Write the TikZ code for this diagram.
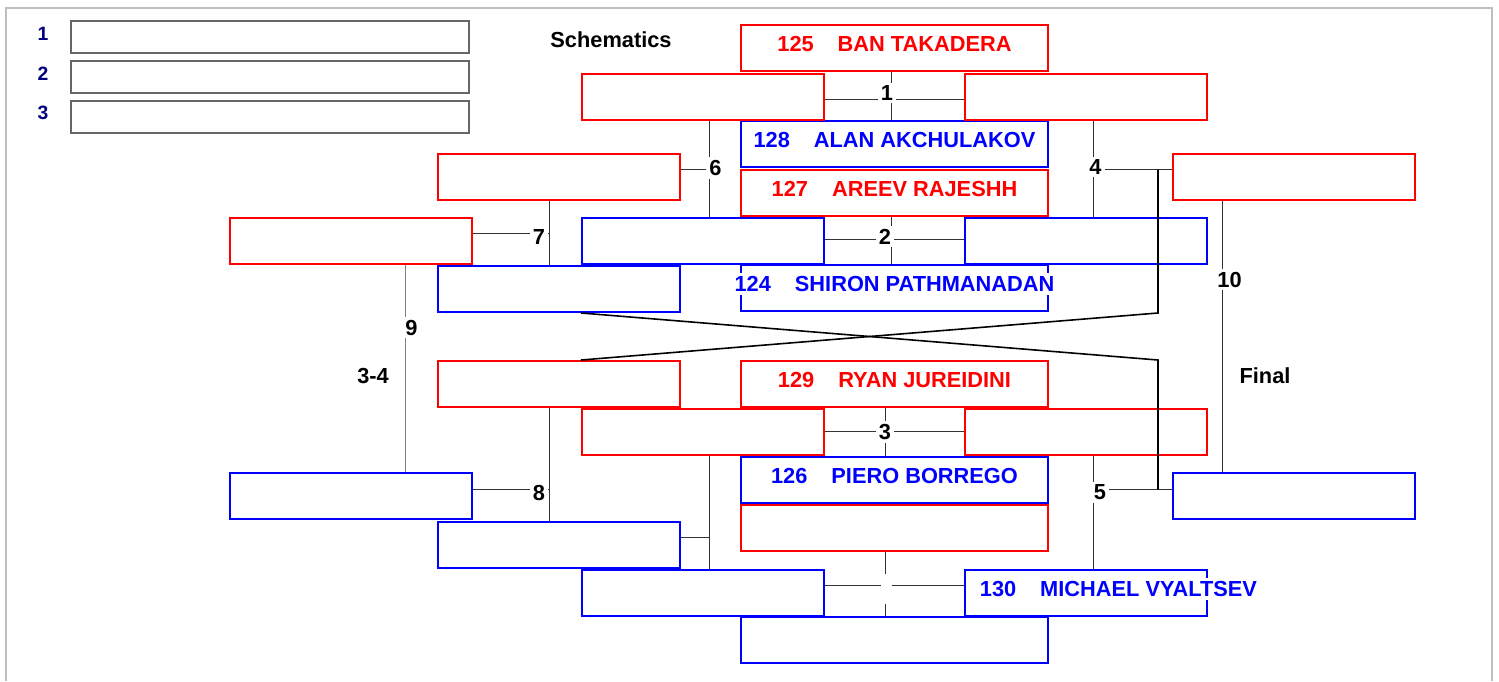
\documentclass[tikz,border=0pt]{standalone}
\usepackage{fontspec}
\setmainfont{Liberation Sans}
\definecolor{matred}{rgb}{1.0, 0.0, 0.0}
\definecolor{matblue}{rgb}{0.0, 0.0, 1.0}
\definecolor{legendnavy}{rgb}{0.0, 0.0, 0.5}
\definecolor{legendgray}{rgb}{0.4, 0.4, 0.4}
\definecolor{framegray}{rgb}{0.75, 0.75, 0.75}
\newcommand{\fighter}[2]{#1\hspace{4.8mm}#2}

\begin{document}
\begin{tikzpicture}[
        x=0.02cm, y=-0.02cm,
        every node/.style={font=\fontsize{12.4}{15}\bfseries},
        slot/.style={rectangle, line width=1.13pt, inner sep=0pt, minimum width=4.84cm, minimum height=0.92cm},
        redslot/.style={slot, draw=matred},
        blueslot/.style={slot, draw=matblue},
        wide/.style={minimum width=6.14cm},
        legendslot/.style={slot, draw=legendgray, minimum width=7.96cm, minimum height=0.64cm},
        redname/.style={fill=white, text=matred, inner sep=2pt, yshift=2.3pt},
        bluename/.style={fill=white, text=matblue, inner sep=2pt, yshift=2.3pt},
        matchno/.style={inner sep=1.5pt},
        legendno/.style={text=legendnavy, font=\fontsize{11}{13}\bfseries},
        conn/.style={draw=black!80, line width=0.57pt},
        crossline/.style={draw=black, line width=0.9pt},
    ]
    \useasboundingbox (0,0) rectangle (1499,681);
    \draw[framegray, line width=1.13pt] (6,681) |- (1492,8) -- (1492,681);

    % Legend
    \node[legendno] (n1) at (43,34) {1};
    \node[legendno] (n2) at (43,73.5) {2};
    \node[legendno] (n3) at (43,113) {3};
    \node[legendslot] (p1) at (270,37) {};
    \node[legendslot] (p2) at (270,77) {};
    \node[legendslot] (p3) at (270,117) {};
    \node (schem) at (611,39.5) {Schematics};
    \node (third) at (373,376) {3-4};
    \node (final) at (1265,375.5) {Final};

    % Centre column
    \node[redslot, wide] (c125) at (894.5,48) {};
    \node[blueslot, wide] (c128) at (894.5,144) {};
    \node[redslot, wide] (c127) at (894.5,193) {};
    \node[blueslot, wide] (c124) at (894.5,288) {};
    \node[redslot, wide] (c129) at (894.5,384) {};
    \node[blueslot, wide] (c126) at (894.5,480) {};
    \node[redslot, wide] (cr) at (894.5,528) {};
    \node[blueslot, wide] (cb) at (894.5,640) {};

    % Side slots
    \node[redslot] (l1) at (703,97) {};
    \node[redslot] (r1) at (1086,97) {};
    \node[redslot] (ll6) at (559,177) {};
    \node[redslot] (rr4) at (1294,177) {};
    \node[redslot] (lll7) at (351,241) {};
    \node[blueslot] (l2) at (703,241) {};
    \node[blueslot] (r2) at (1086,241) {};
    \node[blueslot] (ll7) at (559,289) {};
    \node[redslot] (ll8) at (559,384) {};
    \node[redslot] (l3) at (703,432) {};
    \node[redslot] (r3) at (1086,432) {};
    \node[blueslot] (lll8) at (351,496) {};
    \node[blueslot] (rr5) at (1294,496) {};
    \node[blueslot] (ll9) at (559,545) {};
    \node[blueslot] (l4) at (703,593) {};
    \node[blueslot] (r4) at (1086,593) {};

    % Add names
    \node[redname] (t125) at (c125) {\fighter{125}{BAN TAKADERA}};
    \node[bluename] (t128) at (c128) {\fighter{128}{ALAN AKCHULAKOV}};
    \node[redname] (t127) at (c127) {\fighter{127}{AREEV RAJESHH}};
    \node[bluename] (t124) at (c124) {\fighter{124}{SHIRON PATHMANADAN}};
    \node[redname] (t129) at (c129) {\fighter{129}{RYAN JUREIDINI}};
    \node[bluename] (t126) at (c126) {\fighter{126}{PIERO BORREGO}};
    \node[bluename, anchor=west, xshift=0.24cm] (t130) at (r4.west) {\fighter{130}{MICHAEL VYALTSEV}};

    % Match crossings
    \coordinate (j1) at (891.5,99.5);
    \coordinate (j2) at (891.5,239.5);
    \coordinate (j3) at (885.5,431.5);
    \coordinate (j4) at (1093.5,169.5);
    \coordinate (j5) at (1093.5,489.5);
    \coordinate (j6) at (709.5,169.5);
    \coordinate (j7) at (549.5,233.5);
    \coordinate (j8) at (549.5,489.5);
    \coordinate (j9) at (405.5,0);
    \coordinate (j10) at (1222.5,0);
    \coordinate (j11) at (709.5,537.5);
    \coordinate (j12) at (885.5,585.5);
    \coordinate (xl) at (581,0);
    \coordinate (xr) at (1158,0);

    % Add match numbers
    \node[matchno] (m1) at (887,93) {1};
    \node[matchno] (m2) at (885,236.5) {2};
    \node[matchno] (m3) at (885,432) {3};
    \node[matchno] (m4) at (1095.5,167) {4};
    \node[matchno] (m5) at (1100,492.5) {5};
    \node[matchno] (m6) at (715.5,168) {6};
    \node[matchno] (m7) at (539,236.5) {7};
    \node[matchno] (m8) at (539,493) {8};
    \node[matchno] (m9) at (411.5,327.5) {9};
    \node[matchno] (m10) at (1229.5,279.5) {10};
    \node[matchno, minimum width=0.22cm, minimum height=0.6cm] (m12) at (886.5,589) {};

    % Draw lines between slots
    \draw[conn] (l1.east |- j1) -- (m1.west |- j1);
    \draw[conn] (m1.east |- j1) -- (r1.west |- j1);
    \draw[conn] (c125.south -| j1) -- (j1 |- m1.north);
    \draw[conn] (j1 |- m1.south) -- (c128.north -| j1);

    \draw[conn] (l2.east |- j2) -- (m2.west |- j2);
    \draw[conn] (m2.east |- j2) -- (r2.west |- j2);
    \draw[conn] (c127.south -| j2) -- (j2 |- m2.north);
    \draw[conn] (j2 |- m2.south) -- (c124.north -| j2);

    \draw[conn] (l3.east |- j3) -- (m3.west |- j3);
    \draw[conn] (m3.east |- j3) -- (r3.west |- j3);
    \draw[conn] (c129.south -| j3) -- (j3 |- m3.north);
    \draw[conn] (j3 |- m3.south) -- (c126.north -| j3);

    \draw[conn] (l4.east |- j12) -- (m12.west |- j12);
    \draw[conn] (m12.east |- j12) -- (r4.west |- j12);
    \draw[conn] (cr.south -| j12) -- (j12 |- m12.north);
    \draw[conn] (j12 |- m12.south) -- (cb.north -| j12);

    \draw[conn] (r1.south -| j4) -- (j4 |- m4.north);
    \draw[conn] (j4 |- m4.south) -- (r2.north -| j4);
    \draw[conn] (m4.east |- j4) -- (rr4.west |- j4);

    \draw[conn] (r3.south -| j5) -- (j5 |- m5.north);
    \draw[conn] (j5 |- m5.south) -- (r4.north -| j5);
    \draw[conn] (m5.east |- j5) -- (rr5.west |- j5);

    \draw[conn] (l1.south -| j6) -- (j6 |- m6.north);
    \draw[conn] (j6 |- m6.south) -- (l2.north -| j6);
    \draw[conn] (ll6.east |- j6) -- (m6.west |- j6);

    \draw[conn] (lll7.east |- j7) -- (m7.west |- j7);
    \draw[conn] (m7.east |- j7) -- (j7);
    \draw[conn] (ll6.south -| j7) -- (ll7.north -| j7);

    \draw[conn] (lll8.east |- j8) -- (m8.west |- j8);
    \draw[conn] (m8.east |- j8) -- (j8);
    \draw[conn] (ll8.south -| j8) -- (ll9.north -| j8);

    \draw[conn, draw=gray] (lll7.south -| j9) -- (j9 |- m9.north);
    \draw[conn, draw=gray] (j9 |- m9.south) -- (lll8.north -| j9);

    \draw[conn] (rr4.south -| j10) -- (j10 |- m10.north);
    \draw[conn] (j10 |- m10.south) -- (rr5.north -| j10);

    \draw[conn] (l3.south -| j11) -- (l4.north -| j11);
    \draw[conn] (ll9.east |- j11) -- (j11);

    % Repechage lines
    \draw[crossline] (j4 -| xr) -- (xr |- ll7.south) -- (ll8.north -| xl);
    \draw[crossline] (ll7.south -| xl) -- (xr |- ll8.north) -- (j5 -| xr);
\end{tikzpicture}
\end{document}
